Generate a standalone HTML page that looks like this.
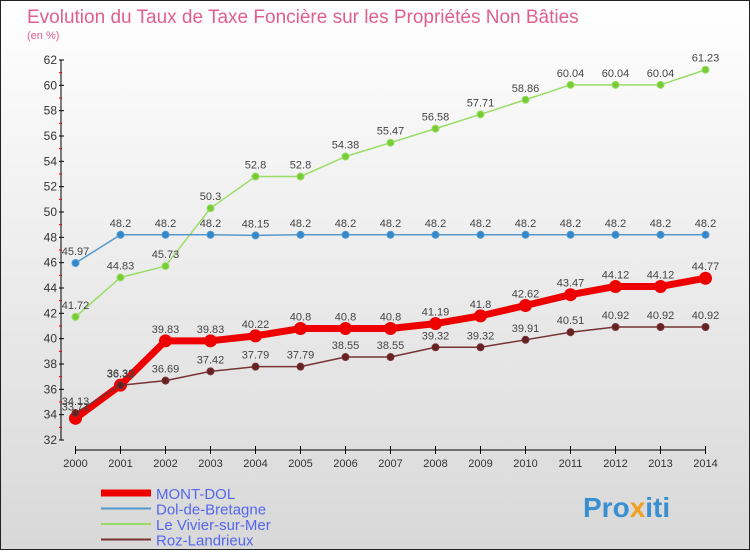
<!DOCTYPE html>
<html><head><meta charset="utf-8"><style>
body{margin:0;width:750px;height:550px;overflow:hidden;font-family:"Liberation Sans",sans-serif}
#wrap{position:relative;width:748px;height:548px;border:1px solid #222;background:linear-gradient(#fff,#d8d8d8)}
</style></head><body>
<div id="wrap">
<svg id="chart" width="748" height="548" xmlns="http://www.w3.org/2000/svg">
<text x="26" y="22" font-size="19" fill="#e0608a">Evolution du Taux de Taxe Foncière sur les Propriétés Non Bâties</text>
<text x="26" y="38" font-size="11" fill="#e0608a">(en %)</text>
<g id="axes"></g><g id="series"></g><g id="legend"></g>
<text x="582" y="516" font-size="28" font-weight="bold" fill="#3a8fd0">Pro<tspan fill="#f0a020">x</tspan>iti</text>
</svg></div>
<script>
const years=[2000,2001,2002,2003,2004,2005,2006,2007,2008,2009,2010,2011,2012,2013,2014];
const yTicks=[32,34,36,38,40,42,44,46,48,50,52,54,56,58,60,62];
const montDol=[33.71,36.33,39.83,39.83,40.22,40.8,40.8,40.8,41.19,41.8,42.62,43.47,44.12,44.12,44.77];
const dol=[45.97,48.2,48.2,48.2,48.15,48.2,48.2,48.2,48.2,48.2,48.2,48.2,48.2,48.2,48.2];
const vivier=[41.72,44.83,45.73,50.3,52.8,52.8,54.38,55.47,56.58,57.71,58.86,60.04,60.04,60.04,61.23];
const roz=[34.13,36.32,36.69,37.42,37.79,37.79,38.55,38.55,39.32,39.32,39.91,40.51,40.92,40.92,40.92];
const NS="http://www.w3.org/2000/svg";
const X=i=>74.5+i*45, Y=v=>439-(v-32)*12.667;
function mk(p,t,a){const e=document.createElementNS(NS,t);for(const k in a)e.setAttribute(k,a[k]);p.appendChild(e);return e;}
const ax=document.getElementById('axes');
let l=mk(ax,'line',{x1:60,y1:Y(62),x2:60,y2:Y(32),stroke:'#000'});


yTicks.forEach((v,k)=>{mk(ax,'line',{x1:58,x2:63,y1:Y(v),y2:Y(v),stroke:'#000'});
 if(k<yTicks.length-1) mk(ax,'line',{x1:58,x2:61,y1:Y(v+1),y2:Y(v+1),stroke:'#e00'});
 const t=mk(ax,'text',{x:56,y:Y(v)+4,'font-size':12,'text-anchor':'end',fill:'#333'});t.textContent=v;
 
 });
l=mk(ax,'line',{x1:X(0),y1:449,x2:X(14),y2:449,stroke:'#000'});


years.forEach((y,i)=>{mk(ax,'line',{x1:X(i),x2:X(i),y1:445,y2:453,stroke:'#000'});
 const t=mk(ax,'text',{x:X(i),y:466,'font-size':11,'text-anchor':'middle',fill:'#333'});t.textContent=y;
 
 });
const sg=document.getElementById('series');
function series(d,col,w,r,name,fill){
 const g=mk(sg,'g',{});
 
 
 mk(g,'polyline',{points:d.map((v,i)=>X(i)+','+Y(v)).join(' '),fill:'none',stroke:col,'stroke-width':w,'stroke-linejoin':'round'});
 d.forEach((v,i)=>{const c=mk(g,'circle',{cx:X(i),cy:Y(v),r:r,fill:fill,stroke:col,'stroke-width':1});
  
  
  const t=mk(g,'text',{x:X(i),y:Y(v)-8,'font-size':11,'text-anchor':'middle',fill:'#444'});t.textContent=v;
  
  });
}
series(vivier,'#99dd66',1.5,3.5,'le-vivier-sur-mer','#77cc33');
series(dol,'#5599cc',1.5,3.5,'dol-de-bretagne','#3388cc');
series(montDol,'#ee0000',7,6,'mont-dol','#ee0000');
series(roz,'#773333',1.5,3.5,'roz-landrieux','#662222');
const lg=document.getElementById('legend');
[['MONT-DOL','#ee0000',7],['Dol-de-Bretagne','#5599cc',2],['Le Vivier-sur-Mer','#99dd66',2],['Roz-Landrieux','#773333',2]].forEach((s,i)=>{
 const y=492+i*15.5;
 const g=mk(lg,'g',{});
 
 
 mk(g,'line',{x1:100,x2:150,y1:y,y2:y,stroke:s[1],'stroke-width':s[2]});
 const t=mk(g,'text',{x:155,y:y+6,'font-size':15,fill:'#5566ee'});t.textContent=s[0];
});
</script></body></html>
